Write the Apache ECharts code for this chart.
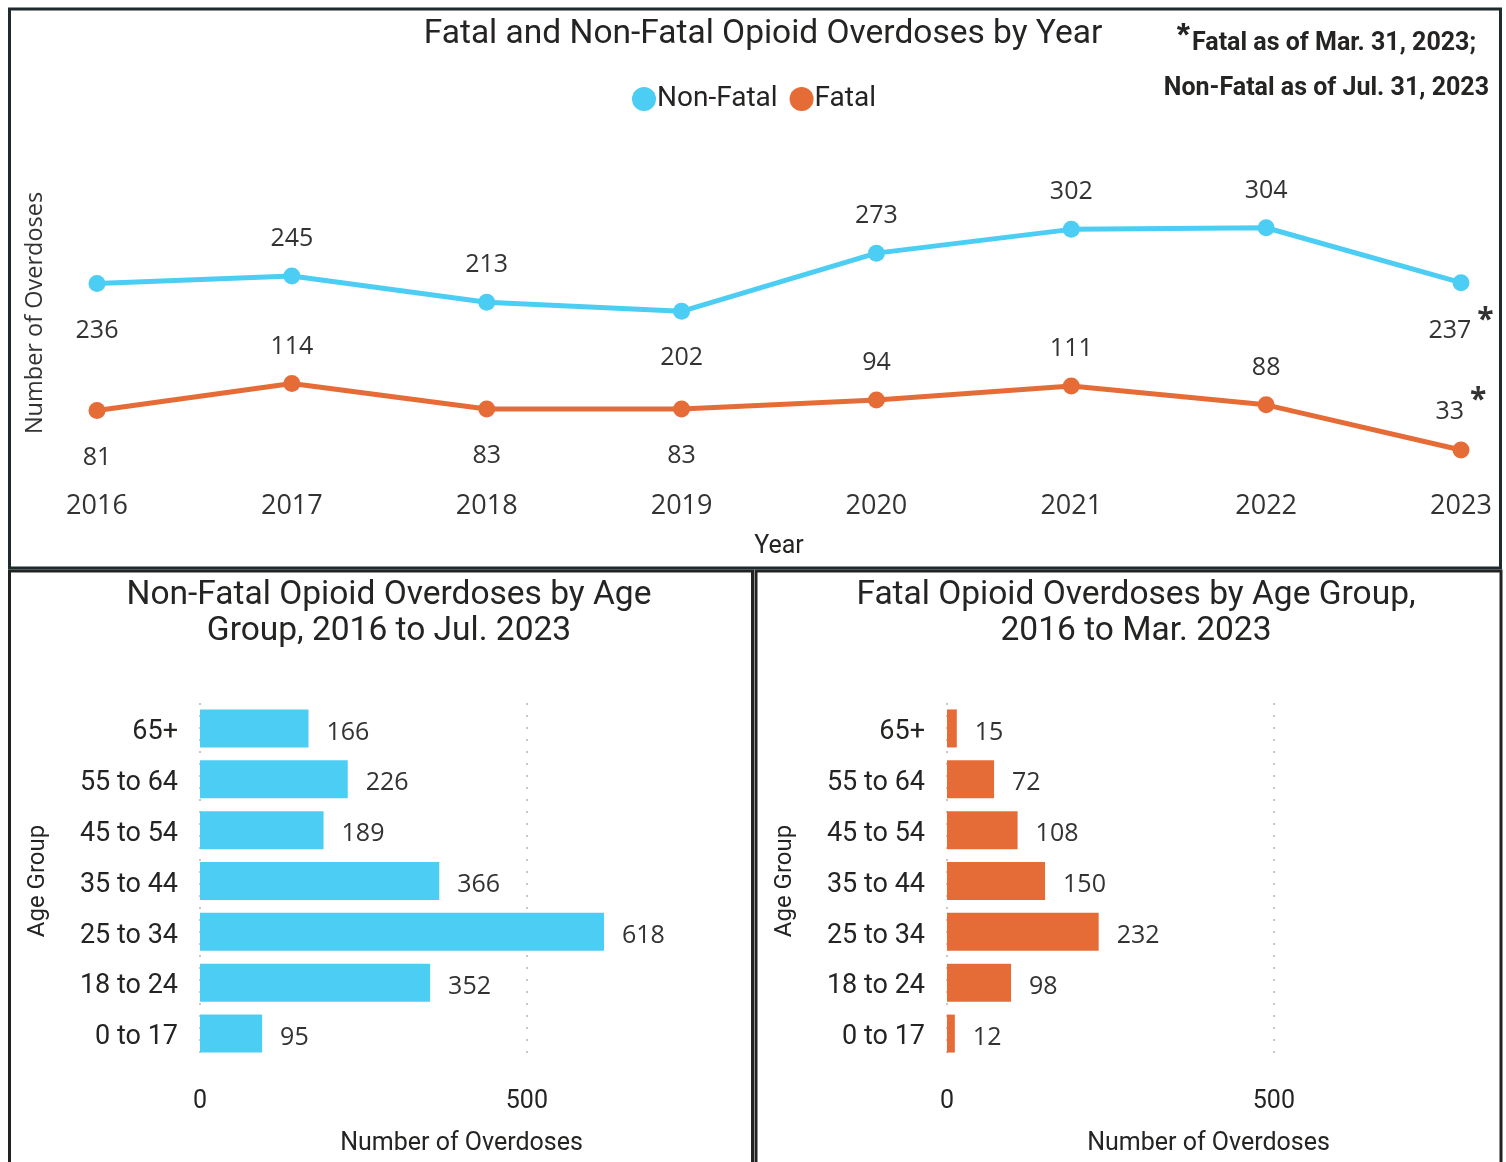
<!DOCTYPE html>
<html>
<head>
<meta charset="utf-8">
<title>Opioid Overdoses</title>
<script src="https://cdn.jsdelivr.net/npm/echarts@6/dist/echarts.min.js"></script>
<style>
  html, body { margin: 0; padding: 0; background: #fff; }
  #chart { width: 1506px; height: 1162px; }
</style>
</head>
<body>
<div id="chart"></div>
<script>
// yearly totals
const years = ['2016', '2017', '2018', '2019', '2020', '2021', '2022', '2023']
const nonFatal = [236, 245, 213, 202, 273, 302, 304, 237]
const fatal = [81, 114, 83, 83, 94, 111, 88, 33]
// where each point label sits (Power BI alternates them)
const nonFatalLabelPos = ['bottom', 'top', 'top', 'bottom', 'top', 'top', 'top', 'bottom']
const fatalLabelPos = ['bottom', 'top', 'bottom', 'bottom', 'top', 'top', 'top', 'top']
const partialYear = '2023'

// age groups, bottom to top
const ageGroups = ['0 to 17', '18 to 24', '25 to 34', '35 to 44', '45 to 54', '55 to 64', '65+']
const nonFatalByAge = [95, 352, 618, 366, 189, 226, 166]
const fatalByAge = [12, 98, 232, 150, 108, 72, 15]
const valueTicks = [0, 500]

const CYAN = '#4ccdf3'
const ORANGE = '#e66c37'
const TEXT = '#252423'
const DIN = 'Roboto, "Noto Sans", sans-serif'
const SEGOE = '"Open Sans", "Noto Sans", sans-serif'

const chart = echarts.init(document.getElementById('chart'))

function pointData(values, positions) {
  return values.map((v, i) => {
    const top = positions[i] === 'top'
    // the asterisk makes the label box taller, pull it back in line
    const shift = years[i] === partialYear ? (top ? 12 : -12) : 0
    return {
      value: v,
      label: {
        position: positions[i],
        distance: top ? 16 : 26,
        offset: [0, shift]
      }
    }
  })
}

const pointLabel = {
  show: true,
  fontFamily: SEGOE,
  formatter: (p) => p.name === partialYear ? '{v|' + p.value + '}{s|*}' : '{v|' + p.value + '}',
  rich: {
    v: { fontSize: 25, color: '#333', fontFamily: SEGOE },
    s: { fontSize: 30, fontWeight: 'bold', color: '#333', padding: [0, 0, 22, 6] }
  }
}

function barAxes(gridIndex) {
  return {
    x: {
      type: 'value',
      gridIndex: gridIndex,
      min: 0,
      max: 800,
      interval: 500,
      name: 'Number of Overdoses',
      nameLocation: 'middle',
      nameGap: 72,
      nameTextStyle: { fontFamily: DIN, fontSize: 25, color: TEXT },
      axisLine: { show: false },
      axisTick: { show: false },
      axisLabel: {
        showMaxLabel: false,
        margin: 30,
        fontFamily: DIN,
        fontSize: 25,
        color: TEXT,
        formatter: (v) => valueTicks.includes(v) ? String(v) : ''
      },
      splitLine: {
        showMaxLine: false,
        lineStyle: { type: [2, 10], color: '#c8c8c8', width: 2 }
      }
    },
    y: {
      type: 'category',
      gridIndex: gridIndex,
      data: ageGroups,
      name: 'Age Group',
      nameLocation: 'middle',
      nameGap: 150,
      nameRotate: 90,
      nameTextStyle: { fontFamily: DIN, fontSize: 24, color: TEXT },
      axisLine: { show: false },
      axisTick: { show: false },
      axisLabel: {
        margin: 22,
        fontFamily: DIN,
        fontSize: 27,
        color: TEXT,
        formatter: '{c|{value}}',
        rich: { c: { fontFamily: DIN, fontSize: 27, color: TEXT, padding: [8, 0, 0, 0] } }
      }
    }
  }
}

const leftAxes = barAxes(1)
const rightAxes = barAxes(2)

function barSeries(values, color, axisIndex) {
  return {
    type: 'bar',
    xAxisIndex: axisIndex,
    yAxisIndex: axisIndex,
    data: values,
    barWidth: 38,
    itemStyle: { color: color },
    label: {
      show: true,
      position: 'right',
      distance: 18,
      offset: [0, 4],
      fontFamily: SEGOE,
      fontSize: 25,
      color: '#333'
    }
  }
}

chart.setOption({
  animation: false,
  title: [
    {
      text: 'Fatal and Non-Fatal Opioid Overdoses by Year',
      left: 758,
      top: 13,
      textAlign: 'center',
      textStyle: { fontFamily: DIN, fontSize: 33.5, fontWeight: 'normal', color: TEXT }
    },
    {
      text: 'Non-Fatal Opioid Overdoses by Age\nGroup, 2016 to Jul. 2023',
      left: 384,
      top: 573,
      textAlign: 'center',
      textStyle: { fontFamily: DIN, fontSize: 33.5, fontWeight: 'normal', color: TEXT, lineHeight: 36 }
    },
    {
      text: 'Fatal Opioid Overdoses by Age Group,\n2016 to Mar. 2023',
      left: 1131,
      top: 573,
      textAlign: 'center',
      textStyle: { fontFamily: DIN, fontSize: 33.5, fontWeight: 'normal', color: TEXT, lineHeight: 36 }
    }
  ],
  legend: {
    left: 627,
    top: 80,
    icon: 'circle',
    itemWidth: 24,
    itemHeight: 24,
    itemGap: 12,
    textStyle: { fontFamily: DIN, fontSize: 28, color: TEXT, padding: [0, 0, 0, -4] },
    data: ['Non-Fatal', 'Fatal']
  },
  grid: [
    { left: 97, right: 45, top: 149, bottom: 685 },
    { left: 200, top: 703, width: 523, height: 356 },
    { left: 947, top: 703, width: 523, height: 356 }
  ],
  xAxis: [
    {
      type: 'category',
      gridIndex: 0,
      data: years,
      boundaryGap: false,
      name: 'Year',
      nameLocation: 'middle',
      nameGap: 57,
      nameTextStyle: { fontFamily: DIN, fontSize: 25, color: TEXT },
      axisLine: { show: false },
      axisTick: { show: false },
      axisLabel: { margin: 16, fontFamily: SEGOE, fontSize: 27, color: '#333' }
    },
    leftAxes.x,
    rightAxes.x
  ],
  yAxis: [
    {
      type: 'value',
      gridIndex: 0,
      min: 0,
      max: 400,
      name: 'Number of Overdoses',
      nameLocation: 'middle',
      nameGap: 50,
      nameRotate: 90,
      nameTextStyle: { fontFamily: SEGOE, fontSize: 23.5, color: '#333' },
      axisLine: { show: false },
      axisTick: { show: false },
      axisLabel: { show: false },
      splitLine: { show: false }
    },
    leftAxes.y,
    rightAxes.y
  ],
  series: [
    {
      name: 'Non-Fatal',
      type: 'line',
      xAxisIndex: 0,
      yAxisIndex: 0,
      data: pointData(nonFatal, nonFatalLabelPos),
      symbol: 'circle',
      symbolSize: 17,
      color: CYAN,
      lineStyle: { width: 5 },
      label: pointLabel
    },
    {
      name: 'Fatal',
      type: 'line',
      xAxisIndex: 0,
      yAxisIndex: 0,
      data: pointData(fatal, fatalLabelPos),
      symbol: 'circle',
      symbolSize: 17,
      color: ORANGE,
      lineStyle: { width: 5 },
      label: pointLabel
    },
    barSeries(nonFatalByAge, CYAN, 1),
    barSeries(fatalByAge, ORANGE, 2)
  ],
  graphic: [
    // panel frames
    { type: 'rect', shape: { x: 9.5, y: 9, width: 1491, height: 559 }, style: { fill: 'none', stroke: '#1f2a2e', lineWidth: 3 } },
    { type: 'rect', shape: { x: 9.5, y: 571, width: 743, height: 600 }, style: { fill: 'none', stroke: '#222', lineWidth: 3 } },
    { type: 'rect', shape: { x: 756, y: 571, width: 745, height: 600 }, style: { fill: 'none', stroke: '#222', lineWidth: 3 } },
    // footnote
    {
      type: 'text',
      style: {
        x: 1476,
        y: 44,
        align: 'right',
        verticalAlign: 'middle',
        text: '{a|*}{b|Fatal as of Mar. 31, 2023;}',
        rich: {
          a: { fontSize: 34, fontWeight: 'bold', fill: TEXT, padding: [0, 2, 14, 0] },
          b: { fontSize: 25, fontWeight: 'bold', fill: TEXT, fontFamily: DIN }
        }
      }
    },
    {
      type: 'text',
      style: {
        x: 1489,
        y: 89,
        align: 'right',
        verticalAlign: 'middle',
        text: 'Non-Fatal as of Jul. 31, 2023',
        fontSize: 25,
        fontWeight: 'bold',
        fontFamily: DIN,
        fill: TEXT
      }
    }
  ]
})
</script>
</body>
</html>
